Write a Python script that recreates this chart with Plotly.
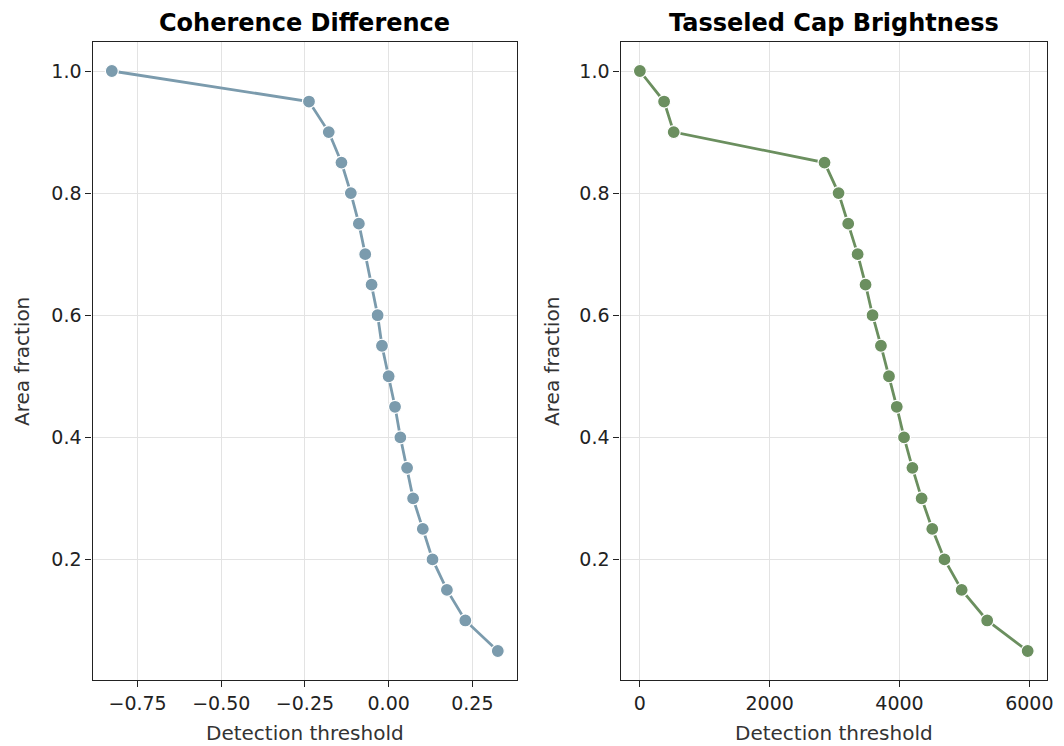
import plotly.graph_objects as go

# Data
area_fraction = [1.00, 0.95, 0.90, 0.85, 0.80, 0.75, 0.70, 0.65, 0.60, 0.55,
                 0.50, 0.45, 0.40, 0.35, 0.30, 0.25, 0.20, 0.15, 0.10, 0.05]
coh_threshold = [-0.827, -0.238, -0.179, -0.141, -0.113, -0.089, -0.070, -0.051, -0.033, -0.020,
                 0.000, 0.019, 0.035, 0.055, 0.073, 0.102, 0.131, 0.174, 0.229, 0.326]
tcb_threshold = [0, 373, 521, 2845, 3061, 3210, 3355, 3477, 3585, 3714,
                 3838, 3958, 4070, 4199, 4341, 4505, 4693, 4958, 5351, 5975]

titles = ["Coherence Difference", "Tasseled Cap Brightness"]
x_label = "Detection threshold"
y_label = "Area fraction"
left_xticks = [-0.75, -0.50, -0.25, 0.00, 0.25]
right_xticks = [0, 2000, 4000, 6000]
yticks = [0.2, 0.4, 0.6, 0.8, 1.0]

# page has an 8px body margin; work in figure coordinates
OFF = 8
W, H = 1064 - OFF, 746 - OFF
left_px = (93 - OFF, 520 - OFF)
right_px = (624 - OFF, 1053 - OFF)
top_px, bot_px = 42 - OFF, 680 - OFF

c_left = "#7b9bad"
c_right = "#6b8f5f"

fig = go.Figure()
fig.add_trace(go.Scatter(x=coh_threshold, y=area_fraction, mode="lines+markers",
                         line=dict(color=c_left, width=2.8),
                         marker=dict(size=13, color=c_left, line=dict(color="white", width=1.2)),
                         xaxis="x", yaxis="y", showlegend=False))
fig.add_trace(go.Scatter(x=tcb_threshold, y=area_fraction, mode="lines+markers",
                         line=dict(color=c_right, width=2.8),
                         marker=dict(size=13, color=c_right, line=dict(color="white", width=1.2)),
                         xaxis="x2", yaxis="y2", showlegend=False))

font_family = "DejaVu Sans"
tick_font = dict(family=font_family, size=19, color="#222222")
common_ax = dict(showline=True, linecolor="#222222", linewidth=1.3, mirror=True,
                 ticks="outside", ticklen=6, tickwidth=1.2, tickcolor="#222222",
                 showgrid=True, gridcolor="#e3e3e3", gridwidth=1, zeroline=False,
                 tickfont=tick_font)

ydom = [1 - bot_px / H, 1 - top_px / H]

def span(a, b, pad):
    d = (b - a) * pad
    return [a - d, b + d]

fig.update_layout(
    width=W, height=H,
    margin=dict(l=0, r=0, t=0, b=0),
    paper_bgcolor="white", plot_bgcolor="white",
    xaxis=dict(domain=[left_px[0] / W, left_px[1] / W], range=span(min(coh_threshold), max(coh_threshold), 0.05),
               tickvals=left_xticks, tickformat=".2f", anchor="y", **common_ax),
    yaxis=dict(domain=ydom, range=span(0.05, 1.0, 0.05), tickvals=yticks, tickformat=".1f",
               anchor="x", **common_ax),
    xaxis2=dict(domain=[right_px[0] / W, right_px[1] / W], range=span(min(tcb_threshold), max(tcb_threshold), 0.05),
                tickvals=right_xticks, tickformat="d", anchor="y2", **common_ax),
    yaxis2=dict(domain=ydom, range=span(0.05, 1.0, 0.05), tickvals=yticks, tickformat=".1f",
                anchor="x2", **common_ax),
)

ann = []
for (l, r), t in zip([left_px, right_px], titles):
    cx = (l + r) / 2 / W
    ann.append(dict(text="<b>%s</b>" % t, x=cx, y=1, xref="paper", yref="paper",
                    showarrow=False, xanchor="center", yanchor="top", borderpad=0,
                    font=dict(family=font_family, size=24, color="black")))
    ann.append(dict(text=x_label, x=cx, y=1 - (733 - OFF) / H, xref="paper", yref="paper",
                    showarrow=False, xanchor="center", yanchor="middle",
                    font=dict(family=font_family, size=20, color="#333333")))
for xpix in [22, 555]:
    ann.append(dict(text=y_label, x=(xpix - OFF) / W, y=1 - (top_px + bot_px) / 2 / H, xref="paper", yref="paper",
                    showarrow=False, xanchor="center", yanchor="middle", textangle=-90,
                    font=dict(family=font_family, size=20, color="#333333")))
fig.update_layout(annotations=ann)

fig.write_html("out.html")
